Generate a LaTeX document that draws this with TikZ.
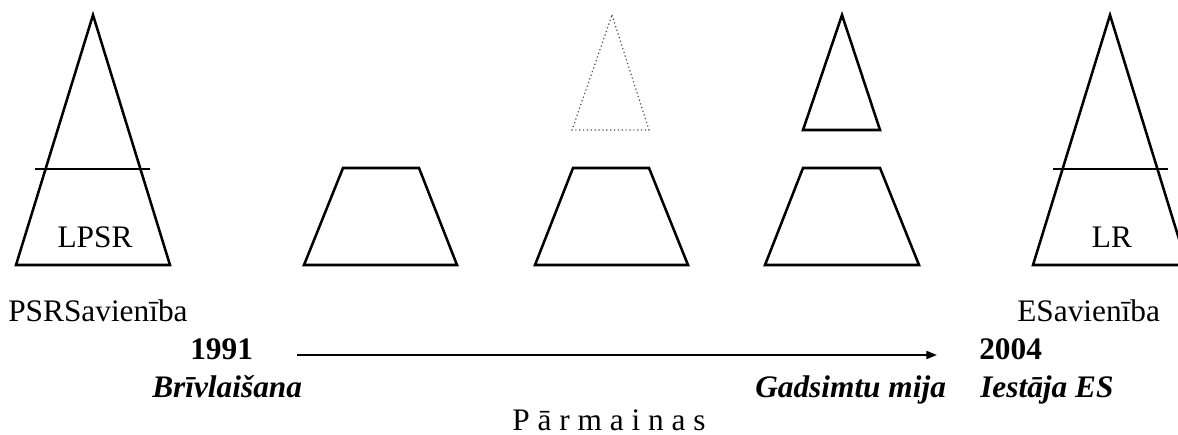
\documentclass[tikz,border=0pt]{standalone}
\usepackage{fontspec}
\setmainfont{Liberation Serif}
\usetikzlibrary{arrows.meta}
\begin{document}
\begin{tikzpicture}[x=0.75pt,y=-0.75pt,
  fig/.style={line width=1.9pt, line join=miter},
  ghost/.style={line width=0.9pt, dotted, draw=black!70},
  cut/.style={line width=2pt},
  timeline/.style={line width=1.5pt, -{Triangle[length=8pt,width=6pt]}},
  lbl/.style={inner sep=0pt, anchor=base west, font=\fontsize{23.5}{28}\selectfont},
  yr/.style={lbl, font=\fontsize{23.5}{28}\selectfont\bfseries},
  ev/.style={lbl, font=\fontsize{23.5}{28}\selectfont\bfseries\itshape}]
\useasboundingbox (0,0) rectangle (1178,435);
\clip (0,0) rectangle (1178,435);
% left pyramid (LPSR)
\draw[fig] (93,15) -- (170,265) -- (16,265) -- cycle;
\draw[cut] (35,169) -- (150,169);
\node[lbl, anchor=base] (lpsr) at (95,247) {LPSR};
% trapezoid 1
\draw[fig] (343,168) -- (419,168) -- (457,265) -- (304,265) -- cycle;
% dotted triangle + trapezoid 2
\draw[ghost] (612,15) -- (649,130) -- (572,130) -- cycle;
\draw[fig] (573,168) -- (649,168) -- (688,265) -- (535,265) -- cycle;
% small triangle + trapezoid 3
\draw[fig] (842,15) -- (880,130) -- (803,130) -- cycle;
\draw[fig] (803,168) -- (880,168) -- (919,265) -- (765,265) -- cycle;
% right pyramid (LR)
\draw[fig] (1110,15) -- (1187,265) -- (1033,265) -- cycle;
\draw[cut] (1053,169) -- (1168,169);
\node[lbl, anchor=base] (lr) at (1112,247) {LR};
% texts
\node[lbl] (psrs) at (8,321) {PSRSavienība};
\node[lbl] (es) at (1017,321) {ESavienība};
\node[yr] (y1991) at (190,359) {1991};
\node[yr] (y2004) at (979,359) {2004};
\node[ev] (briv) at (152,397) {Brīvlaišana};
\node[ev] (gads) at (755,397) {Gadsimtu mija};
\node[ev] (iest) at (980,397) {Iestāja ES};
\node[lbl, anchor=base] (parm) at (609,430) {P ā r m a i n a s};
% timeline arrow
\coordinate (tstart) at (297,355);
\coordinate (tend) at (937,355);
\draw[timeline] (tstart) -- (tend);
\end{tikzpicture}
\end{document}
